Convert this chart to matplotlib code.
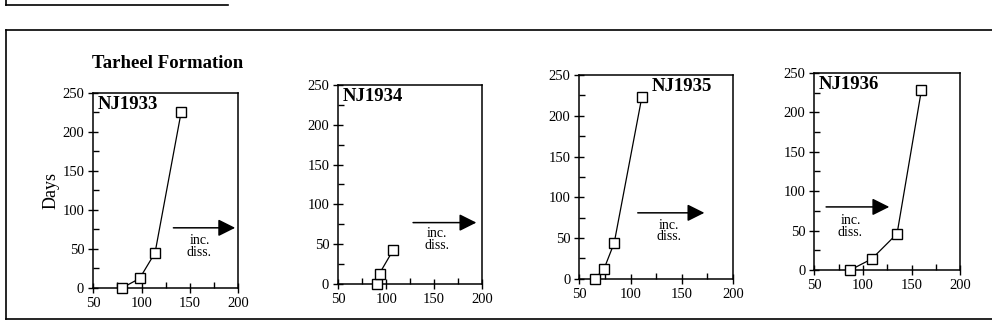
import matplotlib as mpl
mpl.use('Agg')
import matplotlib.pyplot as plt
from matplotlib.ticker import MultipleLocator

plt.rcParams['font.family'] = ['Liberation Serif', 'DejaVu Serif']

samples = ['NJ1933', 'NJ1934', 'NJ1935', 'NJ1936']
x1933 = [80, 98, 114, 141]
y1933 = [0, 12, 45, 225]
x1934 = [90, 93, 107]
y1934 = [0, 13, 42]
x1935 = [65, 74, 84, 111]
y1935 = [0, 12, 44, 223]
x1936 = [87, 109, 135, 160]
y1936 = [0, 14, 46, 228]
xs = [x1933, x1934, x1935, x1936]
ys = [y1933, y1934, y1935, y1936]

# arrow start/end x, arrow y, text x, text y
arrow_x = [(133, 197), (128, 194), (107, 172), (62, 127)]
arrow_y = [77, 77, 81, 80]
text_xy = [(160, 53), (153, 56), (137, 59), (87, 55)]

# axes rects in figure fractions
rects = [[0.094, 0.133, 0.146, 0.587],
         [0.341, 0.145, 0.145, 0.599],
         [0.584, 0.160, 0.155, 0.614],
         [0.821, 0.187, 0.147, 0.593]]
label_pos = [(0.03, 0.985, 'left'), (0.03, 0.985, 'left'),
             (0.47, 0.985, 'left'), (0.03, 0.985, 'left')]

fig = plt.figure(figsize=(9.92, 3.32), dpi=100)

# outer frame and stub of the box above
fig.add_artist(plt.Line2D([0.006, 1.0], [0.91, 0.91], color='k', lw=1.2))
fig.add_artist(plt.Line2D([0.006, 1.0], [0.04, 0.04], color='k', lw=1.2))
fig.add_artist(plt.Line2D([0.006, 0.006], [0.04, 0.91], color='k', lw=1.2))
fig.add_artist(plt.Line2D([0.006, 0.23], [0.985, 0.985], color='k', lw=1.2))
fig.add_artist(plt.Line2D([0.006, 0.006], [0.985, 1.0], color='k', lw=1.2))

for i in range(4):
    ax = fig.add_axes(rects[i])
    ax.plot(xs[i], ys[i], '-', color='k', lw=0.9, marker='s', ms=7,
            mfc='white', mec='k', mew=1.0, clip_on=False, zorder=3)
    ax.set_xlim(50, 200)
    ax.set_ylim(0, 250)
    ax.xaxis.set_major_locator(MultipleLocator(50))
    ax.xaxis.set_minor_locator(MultipleLocator(25))
    ax.yaxis.set_major_locator(MultipleLocator(50))
    ax.yaxis.set_minor_locator(MultipleLocator(25))
    ax.tick_params(which='major', direction='inout', length=7, width=1,
                   labelsize=10.5, pad=3)
    ax.tick_params(which='minor', direction='in', length=4, width=1)
    for s in ax.spines.values():
        s.set_linewidth(1.1)
    lx, ly, ha = label_pos[i]
    ax.text(lx, ly, samples[i], transform=ax.transAxes, ha=ha, va='top',
            fontsize=13.5, fontweight='bold')
    ax.annotate('', xy=(arrow_x[i][1], arrow_y[i]),
                xytext=(arrow_x[i][0], arrow_y[i]),
                arrowprops=dict(arrowstyle='-|>', color='k', lw=1.1,
                                mutation_scale=26, shrinkA=0, shrinkB=0))
    ax.text(text_xy[i][0], text_xy[i][1], 'inc.\ndiss.', ha='center',
            va='center', fontsize=10, linespacing=0.85)
    if i == 0:
        ax.set_ylabel('Days', fontsize=13, labelpad=2)

fig.text(0.093, 0.81, 'Tarheel Formation', fontsize=13.5, fontweight='bold',
         ha='left', va='center')

plt.savefig('out.png', dpi=100)
